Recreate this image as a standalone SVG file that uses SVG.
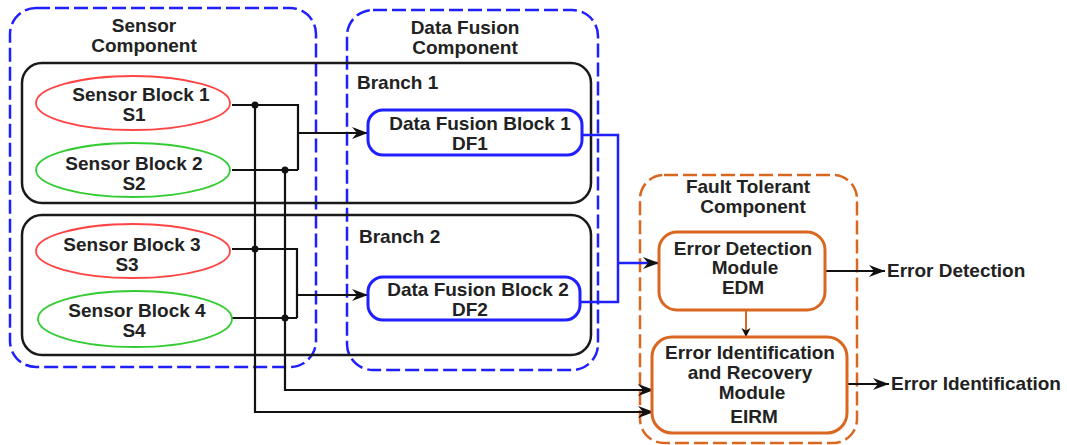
<svg xmlns="http://www.w3.org/2000/svg" width="1067" height="445" viewBox="0 0 1067 445">
<defs>
<style>
text{font-family:"Liberation Sans",Arial,sans-serif;font-weight:bold;font-size:19px;fill:#222;text-anchor:middle}
.lbl{text-anchor:start}
.cmpB{fill:none;stroke:#1f1fff;stroke-width:2.5;stroke-dasharray:14 5}
.cmpO{fill:none;stroke:#d9671f;stroke-width:2.5;stroke-dasharray:14 5}
.branch{fill:none;stroke:#1a1a1a;stroke-width:2.5}
.red{fill:none;stroke:#ff4444;stroke-width:1.8}
.green{fill:none;stroke:#33cc33;stroke-width:1.8}
.df{fill:#fff;stroke:#1f1fff;stroke-width:3}
.ft{fill:#fff;stroke:#d9671f;stroke-width:3}
.w{fill:none;stroke:#111;stroke-width:2.2}
.wb{fill:none;stroke:#1f1fff;stroke-width:2.5}
.wo{fill:none;stroke:#d9671f;stroke-width:2}
.dot{fill:#111}
</style>
<marker id="ah" markerUnits="userSpaceOnUse" markerWidth="17" markerHeight="14" refX="16" refY="7" orient="auto">
<path d="M0,1 L16,7 L0,13 L5,7 z" fill="#111"/>
</marker>
<marker id="ahs" markerUnits="userSpaceOnUse" markerWidth="10" markerHeight="10" refX="9" refY="4.5" orient="auto">
<path d="M0,0 L9,4.5 L0,9 L2.5,4.5 z" fill="#111"/>
</marker>
</defs>

<g id="sensor-component">
<rect class="cmpB" x="10" y="8" width="306" height="359" rx="26"/>
<text x="144" y="32">Sensor</text>
<text x="144" y="52">Component</text>
</g>
<g id="datafusion-component">
<rect class="cmpB" x="347" y="10" width="251" height="360" rx="26"/>
<text x="465" y="34">Data Fusion</text>
<text x="465" y="54">Component</text>
</g>
<g id="branch1">
<rect class="branch" x="22" y="63" width="569" height="140" rx="20"/>
<text class="lbl" x="357" y="89">Branch 1</text>
</g>
<g id="branch2">
<rect class="branch" x="22" y="215" width="569" height="140" rx="20"/>
<text class="lbl" x="359" y="243">Branch 2</text>
</g>
<g id="fault-tolerant-component">
<rect class="cmpO" x="640" y="175" width="217" height="268" rx="24"/>
<text x="748" y="193">Fault Tolerant</text>
<text x="753" y="213">Component</text>
</g>

<g id="connectors">
<path class="w" d="M232,105 H298 V170 M232,170 H298"/>
<path class="w" d="M298,133 H368" marker-end="url(#ah)"/>
<path class="w" d="M232,249 H297 V318 M232,318 H297"/>
<path class="w" d="M297,295 H368" marker-end="url(#ah)"/>
<path class="w" d="M255,105 V412 H654" marker-end="url(#ah)"/>
<path class="w" d="M285,170 V390 H654" marker-end="url(#ah)"/>
<circle class="dot" cx="255" cy="105" r="3.5"/>
<circle class="dot" cx="285" cy="170" r="3.5"/>
<circle class="dot" cx="255" cy="249" r="3.5"/>
<circle class="dot" cx="285" cy="318" r="3.5"/>
<path class="wb" d="M582,135 H618 V302 H580"/>
<path class="wb" d="M618,263 H659" marker-end="url(#ah)"/>
<path class="wo" d="M746,310 V337" marker-end="url(#ahs)"/>
<path class="w" d="M825,271 H885" marker-end="url(#ah)"/>
<path class="w" d="M847,384 H889" marker-end="url(#ah)"/>
</g>

<g id="s1">
<ellipse class="red" cx="133" cy="103" rx="97" ry="27"/>
<text x="141" y="101">Sensor Block 1</text>
<text x="134" y="121">S1</text>
</g>
<g id="s2">
<ellipse class="green" cx="133" cy="170" rx="97" ry="27"/>
<text x="134" y="170">Sensor Block 2</text>
<text x="134" y="190">S2</text>
</g>
<g id="s3">
<ellipse class="red" cx="133" cy="251" rx="97" ry="27"/>
<text x="132" y="251">Sensor Block 3</text>
<text x="127" y="271">S3</text>
</g>
<g id="s4">
<ellipse class="green" cx="135" cy="319" rx="97" ry="28"/>
<text x="137" y="317">Sensor Block 4</text>
<text x="134" y="337">S4</text>
</g>
<g id="df1">
<rect class="df" x="368" y="110" width="214" height="45" rx="15"/>
<text x="480" y="130">Data Fusion Block 1</text>
<text x="470" y="150">DF1</text>
</g>
<g id="df2">
<rect class="df" x="368" y="277" width="212" height="43" rx="15"/>
<text x="478" y="296">Data Fusion Block 2</text>
<text x="470" y="316">DF2</text>
</g>
<g id="edm">
<rect class="ft" x="659" y="232" width="166" height="78" rx="18"/>
<text x="743" y="255">Error Detection</text>
<text x="745" y="274">Module</text>
<text x="743" y="294">EDM</text>
</g>
<g id="eirm">
<rect class="ft" x="652" y="337" width="195" height="96" rx="20"/>
<text x="750" y="359">Error Identification</text>
<text x="750" y="379">and Recovery</text>
<text x="752" y="399">Module</text>
<text x="754" y="423">EIRM</text>
</g>
<g id="out-detection">
<text class="lbl" x="887" y="277">Error Detection</text>
</g>
<g id="out-identification">
<text class="lbl" x="891" y="390">Error Identification</text>
</g>
</svg>
